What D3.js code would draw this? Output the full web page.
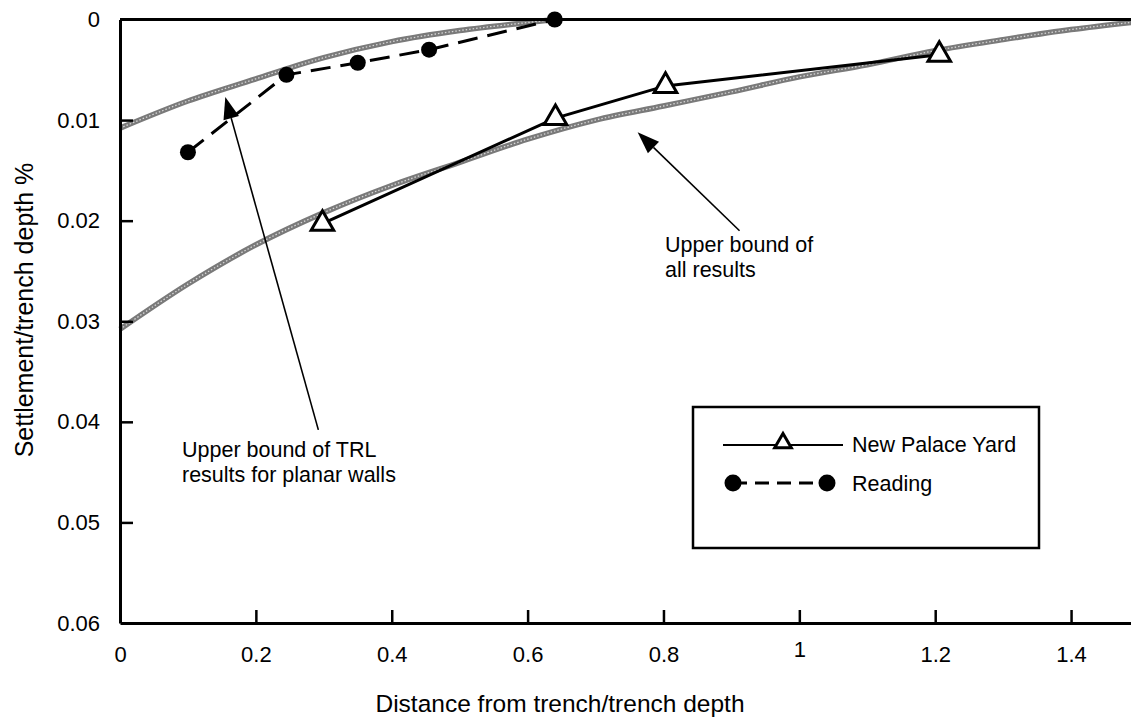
<!DOCTYPE html>
<html lang="en">
<head>
<meta charset="UTF-8">
<title>Settlement vs distance from trench</title>
<script src="https://cdn.jsdelivr.net/npm/d3@7"></script>
<style>
    body { margin: 0; background: #fff; }
    text { font-family: "Liberation Sans", Arial, Helvetica, sans-serif; fill: #000; }
</style>
</head>
<body>
<script>
    // axis ticks
    const xTicks = [0, 0.2, 0.4, 0.6, 0.8, 1, 1.2, 1.4];
    const yTicks = [0, 0.01, 0.02, 0.03, 0.04, 0.05, 0.06];

    // New Palace Yard (triangles, solid line)
    const npyX = [0.298, 0.641, 0.803, 1.206];
    const npyY = [0.0203, 0.0098, 0.0066, 0.0035];

    // Reading (dots, dashed line)
    const readX = [0.10, 0.245, 0.35, 0.455, 0.64];
    const readY = [0.0132, 0.0055, 0.0043, 0.0030, 0.0];

    // upper bound of TRL results for planar walls (grey curve)
    const trlX = [0, 0.1, 0.2, 0.25, 0.3, 0.4, 0.5, 0.6, 0.64];
    const trlY = [0.0108, 0.0081, 0.0059, 0.0048, 0.0038, 0.0022, 0.0011, 0.0003, 0];

    // upper bound of all results (grey curve)
    const allX = [0, 0.1, 0.2, 0.3, 0.4, 0.5, 0.6, 0.7, 0.8, 0.9, 1.0, 1.1, 1.2, 1.3, 1.4, 1.5];
    const allY = [0.0308, 0.0263, 0.0224, 0.0192, 0.0165, 0.0142, 0.0119, 0.0100, 0.0086, 0.0072, 0.0057, 0.0045, 0.0031, 0.0020, 0.0010, 0.0002];

    const seriesNames = ["New Palace Yard", "Reading"];

    const width = 1131, height = 718;
    const fs = 22;

    const svg = d3.select("body").append("svg")
        .attr("width", width).attr("height", height);

    const x = d3.scaleLinear().domain([0, 1.5]).range([120, 1139]);
    const y = d3.scaleLinear().domain([0, 0.06]).range([19.5, 623]);

    const zip = (xs, ys) => xs.map((v, i) => [v, ys[i]]);

    // grey bound curves (hatched look)
    const curve = d3.line().x(d => x(d[0])).y(d => y(d[1])).curve(d3.curveMonotoneX);
    [zip(trlX, trlY), zip(allX, allY)].forEach(pts => {
        svg.append("path").attr("d", curve(pts))
            .attr("fill", "none").attr("stroke", "#7a7a7a").attr("stroke-width", 5.5);
        svg.append("path").attr("d", curve(pts))
            .attr("fill", "none").attr("stroke", "#d6d6d6").attr("stroke-width", 1.3)
            .attr("stroke-dasharray", "1.5,2");
    });

    const line = d3.line().x(d => x(d[0])).y(d => y(d[1]));

    // Reading
    const reading = zip(readX, readY);
    svg.append("path").attr("d", line(reading))
        .attr("fill", "none").attr("stroke", "#000").attr("stroke-width", 3)
        .attr("stroke-dasharray", "20,10");
    svg.selectAll("circle.read").data(reading).enter().append("circle")
        .attr("class", "read")
        .attr("cx", d => x(d[0])).attr("cy", d => y(d[1])).attr("r", 8)
        .attr("fill", "#000");

    // New Palace Yard
    const npy = zip(npyX, npyY);
    svg.append("path").attr("d", line(npy))
        .attr("fill", "none").attr("stroke", "#000").attr("stroke-width", 3);
    const tri = d3.symbol(d3.symbolTriangle, 220);
    svg.selectAll("path.npy").data(npy).enter().append("path")
        .attr("class", "npy")
        .attr("d", tri)
        .attr("transform", d => "translate(" + x(d[0]) + "," + y(d[1]) + ")")
        .attr("fill", "#fff").attr("stroke", "#000").attr("stroke-width", 3);

    // axes
    const yAxis = svg.append("g").attr("transform", "translate(" + x(0) + ",0)")
        .call(d3.axisLeft(y).tickValues(yTicks).tickSize(-13).tickSizeOuter(0).tickPadding(20)
            .tickFormat(d => d === 0 ? "0" : d3.format(".2f")(d)));
    const xAxis = svg.append("g").attr("transform", "translate(0," + y(0.06) + ")")
        .call(d3.axisBottom(x).tickValues(xTicks).tickSize(-13).tickSizeOuter(0).tickPadding(23)
            .tickFormat(d => d === 0 ? "0" : d === 1 ? "1" : d3.format(".1f")(d)));
    [yAxis, xAxis].forEach(g => {
        g.select(".domain").attr("stroke", "#000").attr("stroke-width", 3);
        g.selectAll(".tick line").attr("stroke", "#000").attr("stroke-width", 2.5);
        g.selectAll(".tick text").attr("font-size", fs)
            .attr("font-family", "Liberation Sans, Arial, sans-serif");
    });
    yAxis.selectAll(".tick line").filter(d => d === 0 || d === 0.06).remove();
    xAxis.selectAll(".tick line").filter(d => d === 0).remove();
    // "1" sits a little high in the original
    xAxis.selectAll(".tick text").filter(d => d === 1).attr("y", 18);

    // top border
    svg.append("line")
        .attr("x1", x(0)).attr("x2", x(1.5)).attr("y1", y(0)).attr("y2", y(0))
        .attr("stroke", "#000").attr("stroke-width", 3);

    // axis titles
    svg.append("text").attr("x", 560).attr("y", 712)
        .attr("text-anchor", "middle").attr("font-size", 24.5)
        .text("Distance from trench/trench depth");
    svg.append("text")
        .attr("transform", "translate(33,310) rotate(-90)")
        .attr("text-anchor", "middle").attr("font-size", 25)
        .text("Settlement/trench depth %");

    // annotations with arrows
    function arrow(x1, y1, x2, y2) {
        // from tail (x1,y1) to tip (x2,y2)
        const ang = Math.atan2(y2 - y1, x2 - x1);
        const len = 22, hw = 8;
        const bx = x2 - len * Math.cos(ang), by = y2 - len * Math.sin(ang);
        svg.append("line").attr("x1", x1).attr("y1", y1).attr("x2", bx).attr("y2", by)
            .attr("stroke", "#000").attr("stroke-width", 1.6);
        const px = -Math.sin(ang) * hw, py = Math.cos(ang) * hw;
        svg.append("path")
            .attr("d", "M" + x2 + "," + y2 + "L" + (bx + px) + "," + (by + py) + "L" + (bx - px) + "," + (by - py) + "Z")
            .attr("fill", "#000");
    }
    arrow(x(0.292), y(0.0408), x(0.155), y(0.0077));
    arrow(x(0.912), y(0.0210), x(0.762), y(0.0112));

    const note1 = svg.append("text").attr("font-size", 21.5);
    note1.append("tspan").attr("x", 182).attr("y", 457).text("Upper bound of TRL");
    note1.append("tspan").attr("x", 182).attr("y", 482).text("results for planar walls");
    const note2 = svg.append("text").attr("font-size", 21.5);
    note2.append("tspan").attr("x", 665).attr("y", 252).text("Upper bound of");
    note2.append("tspan").attr("x", 665).attr("y", 277).text("all results");

    // legend
    const lg = svg.append("g");
    lg.append("rect").attr("x", 693).attr("y", 407).attr("width", 346).attr("height", 141)
        .attr("fill", "none").attr("stroke", "#000").attr("stroke-width", 2.5);
    // entry 1
    lg.append("line").attr("x1", 723).attr("x2", 843).attr("y1", 445).attr("y2", 445)
        .attr("stroke", "#000").attr("stroke-width", 2);
    lg.append("path").attr("d", d3.symbol(d3.symbolTriangle, 120))
        .attr("transform", "translate(783,443)")
        .attr("fill", "#fff").attr("stroke", "#000").attr("stroke-width", 3);
    lg.append("text").attr("x", 852).attr("y", 452).attr("font-size", 21.5).text(seriesNames[0]);
    // entry 2
    lg.append("line").attr("x1", 733).attr("x2", 827).attr("y1", 483).attr("y2", 483)
        .attr("stroke", "#000").attr("stroke-width", 3).attr("stroke-dasharray", "14,8");
    lg.selectAll("circle").data([733, 827]).enter().append("circle")
        .attr("cx", d => d).attr("cy", 483).attr("r", 8.5).attr("fill", "#000");
    lg.append("text").attr("x", 852).attr("y", 491).attr("font-size", 21.5).text(seriesNames[1]);
</script>
</body>
</html>
